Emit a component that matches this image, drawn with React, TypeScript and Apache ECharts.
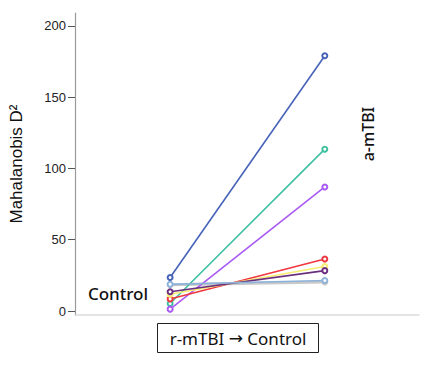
import React, { useEffect, useRef } from "react";
import * as echarts from "echarts";

const stages = [0, 1];
const seriesNames = ["S1", "S2", "S3", "S4", "S5", "S6", "S7", "S8"];
const controlValues = [18.5, 23.5, 5.3, 1.3, 8.4, 11.8, 13.5, 18.7];
const amtbiValues = [20.3, 179, 113.5, 87, 36.5, 31.2, 28.3, 21.4];
const colors = ["#c9c9c9", "#4663b8", "#3fc0a0", "#a95af2", "#f0373f", "#f6ee72", "#6c2e7e", "#8eb3da"];
const widths = [3, 1.6, 1.6, 1.6, 1.6, 1.6, 1.6, 1.6];
const yTicks = [0, 50, 100, 150, 200];

export default function App() {
  const ref = useRef<HTMLDivElement>(null);
  useEffect(() => {
    const chart = echarts.init(ref.current!, null, { renderer: "svg" });
    chart.setOption({
      animation: false,
      grid: { left: 72, right: 11, top: 13, bottom: 51 },
      xAxis: {
        type: "value",
        min: -0.615,
        max: 1.609,
        axisLine: { show: true, onZero: false, lineStyle: { color: "#dcdcdc", width: 1.5 } },
        axisTick: { show: false },
        axisLabel: { show: false },
        splitLine: { show: false },
      },
      yAxis: {
        type: "value",
        min: -2.8,
        max: 209,
        name: "Mahalanobis D²",
        nameLocation: "middle",
        nameGap: 50,
        nameTextStyle: { fontFamily: "Liberation Sans", fontSize: 17, color: "#111" },
        axisLine: { show: true, onZero: false, lineStyle: { color: "#9a9a9a", width: 1.2 } },
        axisTick: { show: true, inside: false, length: 7, customValues: yTicks, lineStyle: { color: "#555" } },
        axisLabel: { customValues: yTicks, fontFamily: "Liberation Sans", fontSize: 13, color: "#222", margin: 9 },
        splitLine: { show: false },
      },
      series: seriesNames.map((n, i) => ({
        name: n,
        type: "line",
        data: stages.map((s, j) => [s, j === 0 ? controlValues[i] : amtbiValues[i]]),
        symbol: "emptyCircle",
        symbolSize: 5,
        lineStyle: { color: colors[i], width: widths[i] },
        itemStyle: { color: colors[i], borderWidth: 1.3 },
        z: i === 0 ? 1 : 2,
      })),
      graphic: [
        {
          type: "text",
          x: 118,
          y: 293,
          style: {
            text: "Control",
            fontFamily: "Noto Sans",
            fontSize: 17,
            fontWeight: 500,
            fill: "#111",
            align: "center",
            verticalAlign: "middle",
          },
        },
        {
          type: "text",
          x: 368,
          y: 134,
          rotation: Math.PI / 2,
          style: {
            text: "a-mTBI",
            fontFamily: "Noto Sans",
            fontSize: 16,
            fontWeight: 500,
            fill: "#111",
            align: "center",
            verticalAlign: "middle",
          },
        },
        {
          type: "rect",
          shape: { x: 157.5, y: 323.5, width: 161, height: 29 },
          style: { fill: "#fff", stroke: "#222", lineWidth: 1 },
        },
        {
          type: "text",
          x: 238,
          y: 338,
          style: {
            text: "{t|r-mTBI }{a|→}{t| Control}",
            align: "center",
            verticalAlign: "middle",
            rich: {
              t: { fontFamily: "Noto Sans", fontSize: 17, fill: "#111" },
              a: { fontFamily: "DejaVu Sans", fontSize: 17, fill: "#111" },
            },
          },
        },
      ],
    });
    return () => chart.dispose();
  }, []);
  return <div ref={ref} style={{ width: 430, height: 366, position: "absolute", left: 0, top: 0 }} />;
}
